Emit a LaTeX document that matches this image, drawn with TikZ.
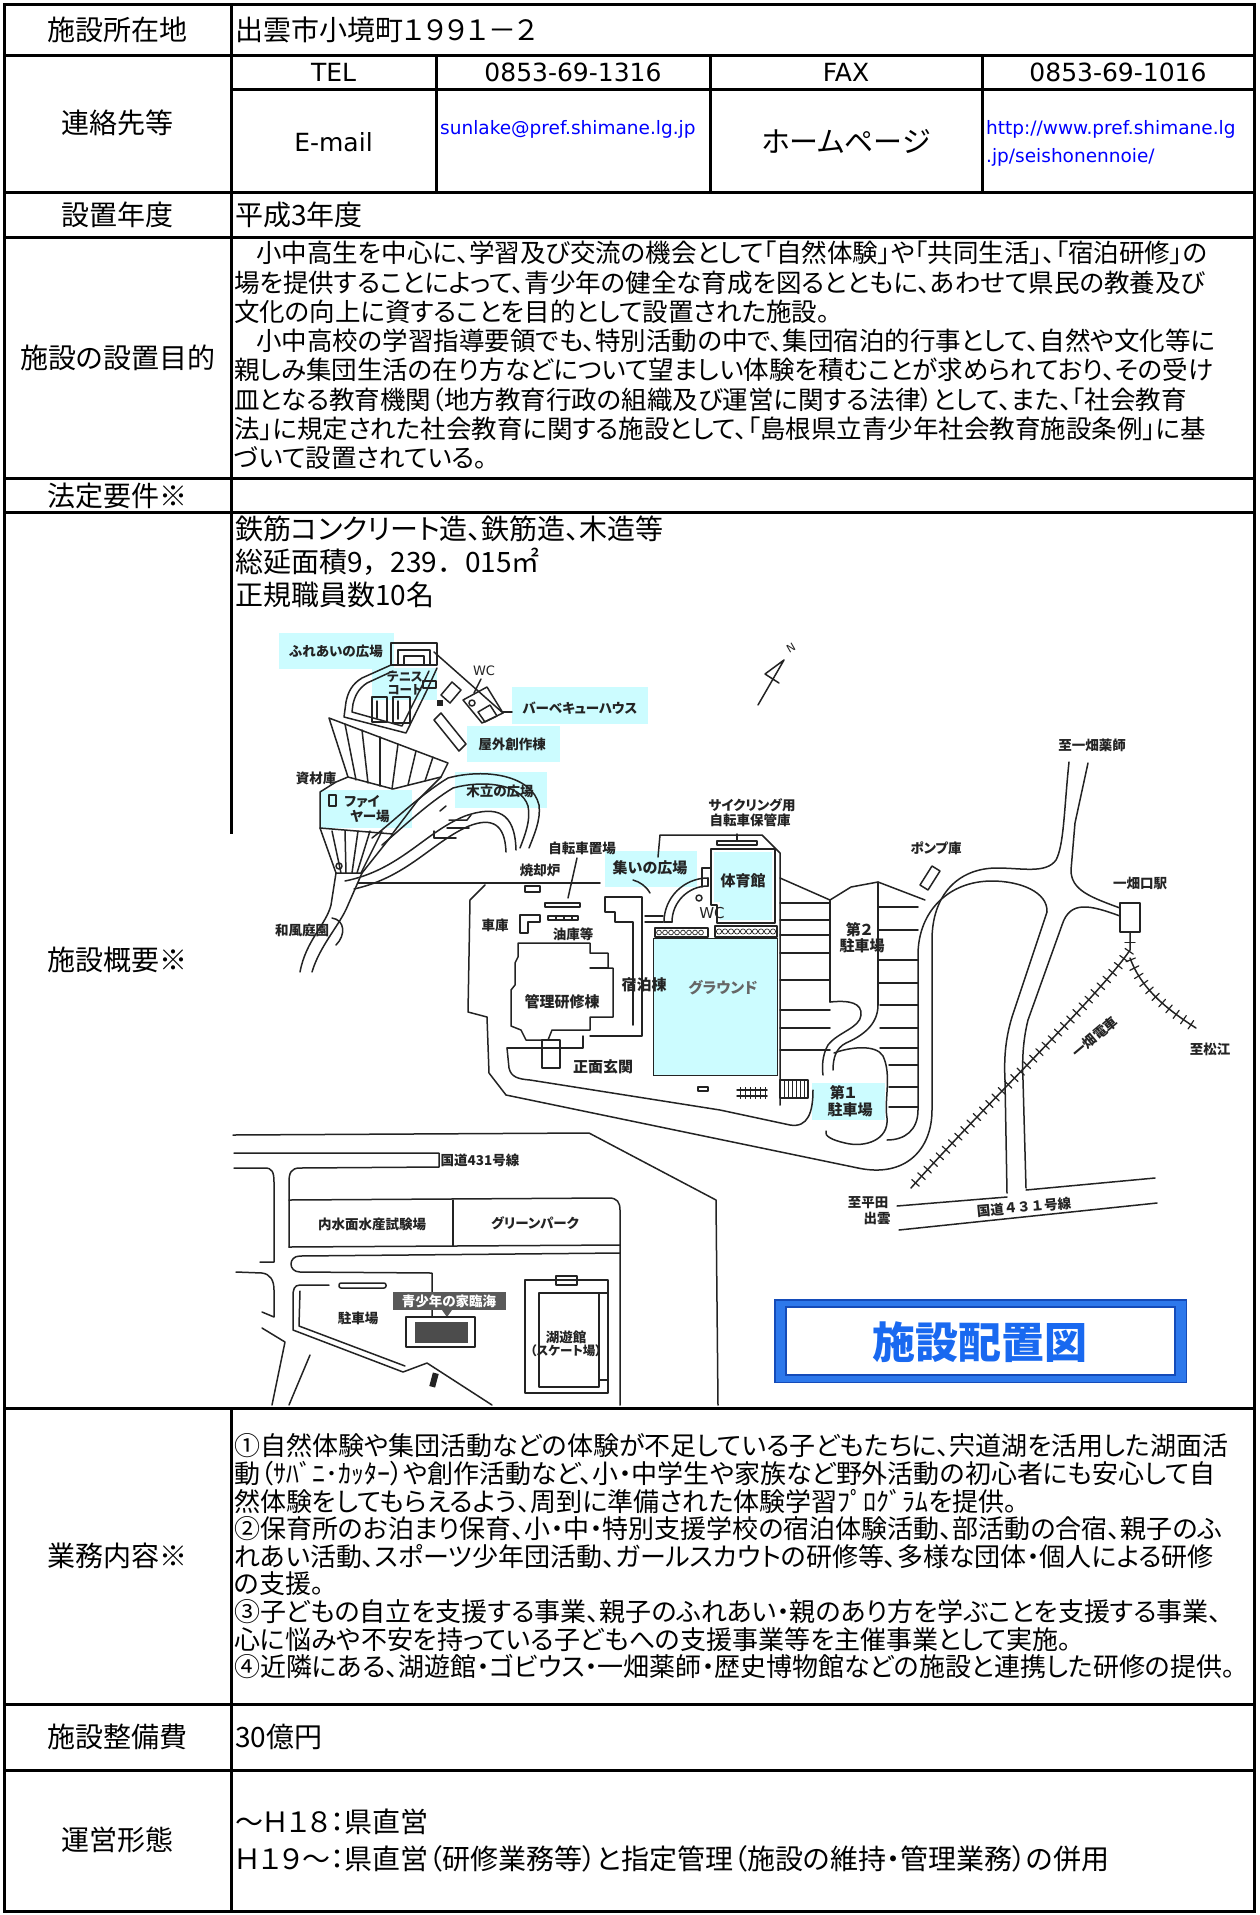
\documentclass[tikz,border=0pt]{standalone}
\usepackage{fontspec}
\usepackage{graphicx}
\setmainfont{Noto Sans CJK JP}[RawFeature=+palt]
\newfontfamily\jpm{Noto Sans CJK JP}
\newfontfamily\djv{DejaVu Sans}
\usetikzlibrary{decorations.markings}
\definecolor{cy}{RGB}{204,252,255}
\definecolor{ml}{RGB}{35,35,35}
\definecolor{urlc}{RGB}{0,0,255}
\definecolor{btn}{RGB}{45,120,235}
\definecolor{btnl}{RGB}{120,175,250}
\definecolor{btnd}{RGB}{20,75,185}
\definecolor{btxt}{RGB}{25,105,240}
\newlength\capw
\newcommand\capto[2]{\settowidth{\capw}{#2}\ifdim\capw>#1\relax\scalebox{\fpeval{#1/\capw}}[1]{#2}\else#2\fi}
\begin{document}
\begin{tikzpicture}[x=1pt,y=-1pt]
\tikzset{
  stl/.style={line width=3pt, line cap=rect},
  slab/.style={anchor=base, inner sep=0, font=\fontsize{28}{28}\selectfont, yshift=-10.6pt},
  sc28/.style={anchor=base west, inner sep=0, font=\fontsize{28}{28}\selectfont, yshift=-10.6pt},
  sc26/.style={anchor=base west, inner sep=0, font=\fontsize{26}{26}\selectfont, yshift=-9.9pt},
  sc25/.style={anchor=base west, inner sep=0, font=\fontsize{25.5}{25.5}\selectfont, yshift=-9.7pt},
  slat/.style={anchor=base, inner sep=0, font=\djv\fontsize{25}{25}\selectfont, yshift=-9pt},
  surl/.style={anchor=base west, inner sep=0, font=\djv\fontsize{18.5}{18.5}\selectfont, text=urlc, yshift=-6.7pt},
  maptx/.style={inner sep=0, font=\fontsize{13.5}{14}\bfseries\selectfont, text=ml},
  mapl/.style={draw=ml, line width=1.5pt, line join=round, line cap=round},
  rail/.style={mapl, postaction={decorate, decoration={markings,
      mark=between positions 0.02 and 0.98 step 9pt with {\draw[ml, line width=1.2pt] (0pt,-5pt) -- (0pt,5pt);}}}},
}
\useasboundingbox (0,0) rectangle (1260,1915);
\fill[white] (0,0) rectangle (1260,1915);

% ================= MAP : cyan label areas =================
\fill[cy] (279,633) rectangle (394,669);
\fill[cy] (372,668) rectangle (437,700);
\fill[cy] (512,687) rectangle (648,724);
\fill[cy] (467,726) rectangle (560,762);
\fill[cy] (455,772) rectangle (547,808);
\fill[cy] (320,790) rectangle (412,828);
\fill[cy] (605,851) rectangle (697,887);
\fill[cy] (714,852) -- (772,852) -- (772,920) -- (720,920) -- (720,902) -- (714,902) -- cycle;
\fill[cy] (653,938) rectangle (777,1075);
\fill[cy] (812,1083) rectangle (885,1120);

% ================= MAP : north-west hill =================
\draw[mapl] (391,643) rectangle (437,665);
\draw[mapl] (398,650) rectangle (430,665);
\draw[mapl] (404,656) rectangle (424,665);
\draw[mapl] (391,665) -- (362,678) .. controls (352,684) and (348,692) .. (346,702) -- (344,717) -- (406,733) -- (427,690) -- (437,668);
\draw[mapl] (393,671) -- (367,683) .. controls (358,689) and (355,696) .. (353,704) -- (352,712) -- (402,726) -- (420,690) -- (429,671);
\draw[mapl] (372,697) rectangle (387,722);
\draw[mapl] (377,701) -- (377,718);
\draw[mapl] (393,697) rectangle (410,723);
\draw[mapl] (398,701) -- (398,719);
\draw[mapl] (423,681) rectangle (436,688);
\draw[mapl] (434,652) -- (503,713);
\draw[mapl] (463,700) -- (487,687) -- (503,713) -- (482,723) -- cycle;
\draw[mapl] (478,712) -- (490,705) -- (497,716) -- (485,722) -- cycle;
\draw[mapl] (472,703) circle (3);
\draw[mapl] (503,712) -- (512,712);
\draw[mapl] (441,695) -- (452,682) -- (461,690) -- (450,703) -- cycle;
\fill[ml] (437,700) rectangle (443,706);
\draw[mapl] (434,720) -- (441,713) -- (466,744) -- (459,751) -- cycle;
\draw[mapl] (481,679) -- (474,693);
\draw[mapl] (329,718) -- (448,763) -- (441,777) -- (393,789) -- (348,777) -- cycle;
\foreach \a/\b/\c/\d in {345/724/356/780, 362/730/368/783, 380/737/380/786, 398/744/392/789, 416/751/408/785, 433/757/425/781}
  \draw[mapl] (\a,\b) -- (\c,\d);
\draw[mapl] (348,777) -- (336,782) -- (320,792) -- (320,828);
\draw[mapl] (441,777) -- (418,800) -- (393,833);
\draw[mapl] (329,795) rectangle (336,806);
\draw[mapl] (320,828) -- (393,834) -- (362,873) -- (336,873) -- cycle;
\foreach \a/\c in {332/341, 345/346, 358/352, 370/357, 382/361}
  \draw[mapl] (\a,831) -- (\c,873);
\draw[mapl] (336,873) -- (331,905) .. controls (326,925) and (306,940) .. (300,972);
\draw[mapl] (362,873) -- (348,905) .. controls (340,925) and (320,945) .. (312,972);
\draw[mapl] (339,866) circle (3);
\draw[mapl] (332,918) .. controls (345,920) and (346,935) .. (336,945);
\draw[mapl] (345,881) .. controls (400,870) and (425,832) .. (465,816) .. controls (497,805) and (515,812) .. (516,850);
\draw[mapl] (354,889) .. controls (408,877) and (432,842) .. (469,826) .. controls (492,817) and (505,824) .. (506,852);
\draw[mapl] (372,838) .. controls (395,820) and (420,795) .. (448,778) .. controls (485,768) and (532,775) .. (539,805) .. controls (541,820) and (534,835) .. (529,848);
\draw[mapl] (382,845) .. controls (402,828) and (428,803) .. (453,788) .. controls (482,780) and (521,783) .. (528,806) .. controls (531,820) and (525,835) .. (520,848);
\draw[mapl] (440,811) -- (446,806);
\draw[mapl] (449,820) -- (467,820) -- (471,815);
\draw[mapl] (447,828) -- (469,828);
\draw[mapl] (434,831) -- (434,838) -- (456,838);

% ================= MAP : main complex =================
\draw[mapl] (358,883) -- (600,883);
\draw[mapl] (485,885) -- (470,900) -- (468,1012) -- (487,1017) -- (489,1073) -- (506,1095) -- (858,1168);
\draw[mapl] (507,1048) -- (583,1048) -- (583,1036);
\draw[mapl] (507,1048) -- (509,1068) .. controls (511,1077) and (518,1079) .. (530,1080) -- (720,1110) -- (790,1125) .. controls (808,1128) and (813,1112) .. (813,1090);
\draw[mapl] (518,943) -- (590,943) -- (590,953) -- (608,953) -- (608,968) -- (613,968) -- (613,1017) -- (590,1017) -- (590,1030) -- (552,1030) -- (548,1040) -- (526,1040) -- (521,1030) -- (511,1026) -- (511,990) -- (515,985) -- (515,963) -- (518,957) -- cycle;
\draw[mapl] (590,968) -- (608,968);
\draw[mapl] (542,1040) rectangle (560,1068);
\draw[mapl] (605,897) -- (642,897) -- (642,1036) -- (590,1036);
\draw[mapl] (605,897) -- (605,912) -- (615,912) -- (615,922) -- (633,922) -- (633,1025);
\draw[mapl] (645,916) -- (663,916);
\draw[mapl] (645,922) -- (663,922);
\draw[mapl] (658,857) -- (660,835) -- (762,835) -- (780,853) -- (780,1105);
\draw[mapl] (717,841) rectangle (757,845);
\draw[mapl] (737,841) -- (737,834);
\draw[mapl] (711,849) -- (775,849) -- (775,923) -- (717,923) -- (717,905) -- (711,905) -- cycle;
\draw[mapl] (711,868) -- (702,868) -- (702,887);
\draw[mapl] (664,922) arc[start angle=180, end angle=270, radius=44];
\draw[mapl] (672,922) arc[start angle=180, end angle=270, radius=36];
\draw[mapl] (664,922) -- (672,922);
\draw[mapl] (708,878) -- (708,886);
\draw[mapl] (699,898) circle (3);
\draw[mapl] (655,928) rectangle (708,937);
\draw[mapl] (715,926) rectangle (777,937);
\foreach \x in {659,665,...,704} \draw[ml, line width=0.7pt] (\x,932.5) circle (2.4);
\foreach \x in {719,725,...,774} \draw[ml, line width=0.7pt] (\x,931.5) circle (2.6);
\draw[ml, line width=1pt] (653,938) rectangle (777,1075);
\draw[mapl] (633,880) .. controls (640,882) and (646,886) .. (650,893);
\draw[mapl] (577,858) -- (568,898);
\draw[mapl] (520,915) -- (540,915) -- (540,922) -- (528,922) -- (528,933) -- (520,933) -- cycle;
\draw[mapl] (545,903) rectangle (580,907);
\draw[mapl] (548,916) rectangle (578,920);
\foreach \x in {556,564,572} \draw[mapl] (\x,916) -- (\x,920);
\draw[mapl] (525,886) rectangle (540,892);

% parking lots
\draw[mapl] (780,878) -- (830,900) -- (851,887) -- (878,882) -- (925,900);
\foreach \y in {903,920,935,953,980,1010,1028,1050} \draw[mapl] (780,\y) -- (830,\y);
\draw[mapl] (830,900) -- (830,1002);
\draw[mapl] (878,882) -- (878,1005);
\foreach \y in {907,930,960,983} \draw[mapl] (878,\y) -- (918,\y);
\foreach \y in {1005,1028,1048} \draw[mapl] (880,\y) -- (918,\y);
\foreach \y in {1065,1087,1107} \draw[mapl] (889,\y) -- (918,\y);
\draw[mapl] (830,1002) .. controls (850,1000) and (862,1003) .. (861,1015) .. controls (860,1028) and (838,1032) .. (828,1045) .. controls (822,1055) and (822,1068) .. (823,1075);
\draw[mapl] (878,1005) .. controls (878,1025) and (862,1036) .. (846,1043) .. controls (836,1048) and (833,1058) .. (833,1070);
\draw[mapl] (834,1053) .. controls (850,1047) and (876,1044) .. (883,1056) .. controls (892,1075) and (884,1100) .. (887,1118) .. controls (889,1140) and (865,1148) .. (845,1143) .. controls (832,1140) and (824,1136) .. (826,1131);
\draw[mapl] (780,1080) rectangle (808,1098);
\foreach \x in {784,788,...,804} \draw[ml, line width=0.8pt] (\x,1080) -- (\x,1098);
\draw[mapl] (737,1090) -- (767,1090);
\draw[mapl] (737,1096) -- (767,1096);
\foreach \x in {740,745,...,765} \draw[ml, line width=0.8pt] (\x,1087) -- (\x,1099);
\draw[mapl] (698,1087) rectangle (708,1091);

% loop road, roads to the east
\draw[mapl] (858,1168) .. controls (905,1178) and (932,1150) .. (932,1110) -- (932,940) .. controls (932,895) and (958,868) .. (997,868) .. controls (1022,868) and (1046,874) .. (1056,860) .. controls (1064,845) and (1064,810) .. (1069,762);
\draw[mapl] (887,1140) .. controls (905,1140) and (918,1130) .. (918,1110) -- (918,955) .. controls (918,912) and (948,881) .. (992,881) .. controls (1020,881) and (1048,892) .. (1047,912) -- (1012,1017) .. controls (1005,1040) and (1004,1060) .. (1005,1080) -- (1007,1193);
\draw[mapl] (1088,763) -- (1075,823) -- (1071,870) .. controls (1071,890) and (1090,897) .. (1120,908);
\draw[mapl] (1120,916) .. controls (1090,905) and (1070,900) .. (1062,925) -- (1028,1020) .. controls (1023,1040) and (1022,1060) .. (1023,1080) -- (1026,1188);
\draw[mapl] (920,885) -- (932,866) -- (940,871) -- (928,890) -- cycle;
\draw[mapl] (1120,903) rectangle (1140,932);
\draw[rail] (911,1188) .. controls (980,1110) and (1100,995) .. (1130,950) -- (1130,933);
\draw[rail] (1130,958) .. controls (1140,985) and (1160,1005) .. (1196,1028);
\draw[mapl] (897,1206) -- (1007,1197);
\draw[mapl] (1026,1190) -- (1155,1178);
\draw[mapl] (899,1230) -- (1157,1203);
\draw[mapl] (758,705) -- (784,660) -- (765,674) -- (779,683);

% ================= MAP : south-west (route 431) =================
\draw[mapl] (233,1135) -- (589,1133) -- (716,1200) -- (718,1405);
\draw[mapl] (234,1153) -- (439,1153) -- (439,1167) -- (300,1168) .. controls (291,1168) and (289,1173) .. (289,1182) -- (289,1247);
\draw[mapl] (289,1200) -- (609,1198) .. controls (617,1198) and (620,1202) .. (620,1210) -- (620,1405);
\draw[mapl] (289,1247) -- (620,1245);
\draw[mapl] (453,1200) -- (453,1246);
\draw[mapl] (620,1253) -- (300,1256) .. controls (288,1256) and (288,1272) .. (300,1272) -- (432,1273) -- (432,1317);
\draw[mapl] (234,1168) -- (265,1168) .. controls (272,1168) and (274,1172) .. (274,1182) -- (274,1262) -- (260,1262);
\draw[mapl] (236,1272) -- (262,1273) .. controls (270,1274) and (274,1280) .. (274,1290) -- (274,1317) -- (262,1312);
\draw[mapl] (329,1285) -- (300,1285) .. controls (294,1285) and (293,1290) .. (293,1296) -- (293,1330) -- (403,1372) -- (427,1363) -- (492,1405);
\draw[mapl] (300,1291) -- (299,1326) -- (405,1366);
\draw[mapl, rounded corners=2pt] (339,1283) rectangle (386,1288);
\draw[mapl] (262,1328) -- (285,1342) -- (272,1405);
\draw[mapl] (310,1355) -- (289,1405);
\fill[ml, rotate around={-15:(434,1380)}] (431,1373) rectangle (437,1387);
\fill[black!65] (393,1292) rectangle (506,1310);
\fill[black!65] (442,1310) -- (452,1310) -- (447,1317) -- cycle;
\draw[mapl] (406,1317) rectangle (475,1347);
\fill[black!70] (415,1322) rectangle (468,1343);
\draw[mapl] (525,1280) rectangle (608,1393);
\draw[mapl] (539,1293) rectangle (599,1387);
\draw[mapl] (556,1276) rectangle (577,1285);
\draw[mapl] (599,1293) -- (608,1293);
\draw[mapl] (599,1380) -- (608,1380);

% ================= MAP : texts =================
\node[maptx] (m1) at (336,651) {ふれあいの広場};
\node[maptx, font=\fontsize{12.5}{13}\bfseries\selectfont] (m2) at (405,677) {テニス};
\node[maptx, font=\fontsize{12.5}{13}\bfseries\selectfont] (m3) at (405,690) {コート};
\node[maptx, font=\djv\fontsize{13}{13}\selectfont] (m4) at (484,671) {WC};
\node[maptx] (m5) at (580,708) {バーベキューハウス};
\node[maptx] (m6) at (512,744) {屋外創作棟};
\node[maptx] (m7) at (316,778) {資材庫};
\node[maptx] (m8) at (362,802) {ファイ};
\node[maptx] (m9) at (370,816) {ヤー場};
\node[maptx] (m10) at (500,791) {木立の広場};
\node[maptx] (m11) at (302,930) {和風庭園};
\node[maptx] (m12) at (582,848) {自転車置場};
\node[maptx] (m13) at (540,870) {焼却炉};
\node[maptx, font=\fontsize{15}{15}\bfseries\selectfont] (m14) at (650,868) {集いの広場};
\node[maptx] (m15) at (752,805) {サイクリング用};
\node[maptx] (m16) at (750,820) {自転車保管庫};
\node[maptx, font=\fontsize{15}{15}\bfseries\selectfont] (m17) at (743,881) {体育館};
\node[maptx, font=\djv\fontsize{15}{15}\selectfont] (m18) at (712,913) {WC};
\node[maptx] (m19) at (495,925) {車庫};
\node[maptx] (m20) at (573,934) {油庫等};
\node[maptx, font=\fontsize{15}{15}\bfseries\selectfont] (m21) at (644,985) {宿泊棟};
\node[maptx, font=\fontsize{15}{15}\bfseries\selectfont] (m22) at (562,1002) {管理研修棟};
\node[maptx, font=\fontsize{15}{15}\bfseries\selectfont, text=black!60] (m23) at (723,988) {グラウンド};
\node[maptx, font=\fontsize{15}{15}\bfseries\selectfont] (m24) at (603,1067) {正面玄関};
\node[maptx] (m25) at (936,848) {ポンプ庫};
\node[maptx, font=\fontsize{15}{15}\bfseries\selectfont] (m26) at (859,930) {第２};
\node[maptx, font=\fontsize{15}{15}\bfseries\selectfont] (m27) at (862,946) {駐車場};
\node[maptx] (m28) at (1092,745) {至一畑薬師};
\node[maptx] (m29) at (1140,883) {一畑口駅};
\node[maptx, font=\fontsize{15}{15}\bfseries\selectfont] (m30) at (843,1093) {第１};
\node[maptx, font=\fontsize{15}{15}\bfseries\selectfont] (m31) at (850,1110) {駐車場};
\node[maptx, rotate=40] (m32) at (1095,1037) {一畑電車};
\node[maptx] (m33) at (1210,1049) {至松江};
\node[maptx] (m34) at (868,1203) {至平田};
\node[maptx] (m35) at (877,1218) {出雲};
\node[maptx, font=\jpm\fontsize{13.5}{14}\bfseries\selectfont, rotate=5] (m36) at (1024,1207) {国道４３１号線};
\node[maptx] (m37) at (480,1160) {国道431号線};
\node[maptx] (m38) at (372,1224) {内水面水産試験場};
\node[maptx] (m39) at (535,1223) {グリーンパーク};
\node[maptx] (m40) at (358,1318) {駐車場};
\node[maptx, text=white] (m41) at (449,1301) {青少年の家臨海};
\node[maptx] (m42) at (566,1337) {湖遊館};
\node[maptx, font=\fontsize{12.5}{13}\bfseries\selectfont] (m43) at (566,1351) {（スケート場）};
\node[maptx, font=\djv\fontsize{11}{11}\selectfont, rotate=30] (m44) at (791,648) {N};

% button
\fill[btn] (774,1299) rectangle (1187,1383);
\draw[btnl, line width=2pt] (775,1382) -- (775,1300) -- (1186,1300);
\draw[btnd, line width=1.5pt] (774.75,1299.75) rectangle (1186.25,1382.25);
\fill[white] (786,1307) rectangle (1175,1375);
\draw[btnd, line width=1.5pt] (786,1307) rectangle (1175,1375);
\node[inner sep=0, font=\fontsize{43}{43}\bfseries\selectfont, text=btxt] (bt) at (980,1342) {施設配置図};

% ================= TABLE =================
\draw[stl] (4.5,4.5) rectangle (1254.5,1911);
\foreach \yy in {55,192,237,478,512,1408,1704,1770} \draw[stl] (4.5,\yy) -- (1254.5,\yy);
\draw[stl] (231,89) -- (1254.5,89);
\foreach \xx in {436,710,982} \draw[stl] (\xx,55) -- (\xx,192);
\draw[stl] (231,4.5) -- (231,832);
\draw[stl] (231,1408) -- (231,1911);

% labels
\node[slab] (l1) at (117.5,30) {施設所在地};
\node[slab] (l2) at (117.5,123) {連絡先等};
\node[slab] (l3) at (117.5,215) {設置年度};
\node[slab] (l4) at (117.5,358) {施設の設置目的};
\node[slab] (l5) at (117.5,496) {法定要件※};
\node[slab] (l6) at (117.5,960) {施設概要※};
\node[slab] (l7) at (117.5,1556) {業務内容※};
\node[slab] (l8) at (117.5,1737) {施設整備費};
\node[slab] (l9) at (117.5,1840) {運営形態};

% row 1-3
\node[sc28] (v1) at (235,30) {出雲市小境町１９９１－２};
\node[slat] (tel) at (333.5,72) {TEL};
\node[slat] (teln) at (573,72) {0853-69-1316};
\node[slat] (fax) at (846,72) {FAX};
\node[slat] (faxn) at (1118,72) {0853-69-1016};
\node[slat] (em) at (333.5,142) {E-mail};
\node[surl] (ema) at (440,128) {sunlake@pref.shimane.lg.jp};
\node[slab, font=\fontsize{29}{29}\selectfont] (hp) at (846,142) {ホームページ};
\node[surl] (ur1) at (986,128) {http://www.pref.shimane.lg};
\node[surl] (ur2) at (986,156) {.jp/seishonennoie/};
\node[sc28] (v3) at (235,215) {平成3年度};

% row 4
\foreach \t [count=\i from 0] in {
 {\hspace*{22pt}小中高生を中心に、学習及び交流の機会として「自然体験」や「共同生活」、「宿泊研修」の},
 {場を提供することによって、青少年の健全な育成を図るとともに、あわせて県民の教養及び},
 {文化の向上に資することを目的として設置された施設。},
 {\hspace*{22pt}小中高校の学習指導要領でも、特別活動の中で、集団宿泊的行事として、自然や文化等に},
 {親しみ集団生活の在り方などについて望ましい体験を積むことが求められており、その受け},
 {皿となる教育機関（地方教育行政の組織及び運営に関する法律）として、また、「社会教育},
 {法」に規定された社会教育に関する施設として、「島根県立青少年社会教育施設条例」に基},
 {づいて設置されている。}}
  \node[sc25] (pa\i) at (234,{253+29.3*\i}) {\capto{1016pt}{\t}};

% row 6 text
\node[sc28] (s1) at (235,529) {鉄筋コンクリート造、鉄筋造、木造等};
\node[sc28, font=\jpm\fontsize{28}{28}\selectfont] (s2) at (235,562) {総延面積9，239．015㎡};
\node[sc28] (s3) at (235,595) {正規職員数10名};

% row 7
\foreach \t [count=\i from 0] in {
 {①自然体験や集団活動などの体験が不足している子どもたちに、宍道湖を活用した湖面活},
 {動（ｻﾊﾞﾆ･ｶｯﾀｰ）や創作活動など、小・中学生や家族など野外活動の初心者にも安心して自},
 {然体験をしてもらえるよう、周到に準備された体験学習ﾌﾟﾛｸﾞﾗﾑを提供。},
 {②保育所のお泊まり保育、小・中・特別支援学校の宿泊体験活動、部活動の合宿、親子のふ},
 {れあい活動、スポーツ少年団活動、ガールスカウトの研修等、多様な団体・個人による研修},
 {の支援。},
 {③子どもの自立を支援する事業、親子のふれあい・親のあり方を学ぶことを支援する事業、},
 {心に悩みや不安を持っている子どもへの支援事業等を主催事業として実施。},
 {④近隣にある、湖遊館・ゴビウス・一畑薬師・歴史博物館などの施設と連携した研修の提供。}}
  \node[sc26] (pb\i) at (234,{1446+27.6*\i}) {\capto{1016pt}{\t}};

% row 8, 9
\node[sc28] (v8) at (235,1737) {30億円};
\node[sc28] (v9a) at (235,1822) {～Ｈ１８：県直営};
\node[sc28] (v9b) at (235,1859) {\capto{1014pt}{Ｈ１９～：県直営（研修業務等）と指定管理（施設の維持・管理業務）の併用}};
\end{tikzpicture}
\end{document}
